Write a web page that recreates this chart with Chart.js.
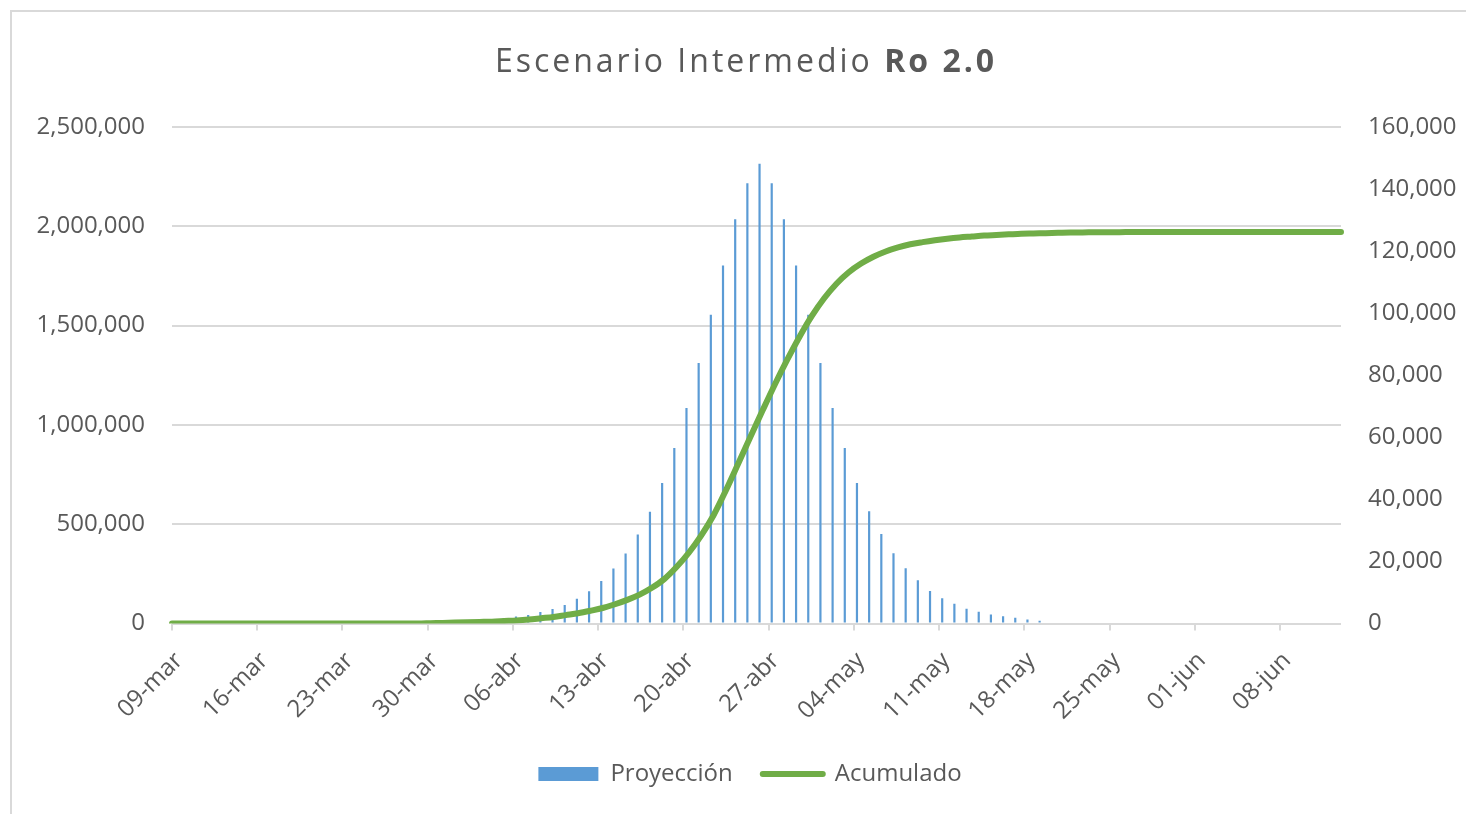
<!DOCTYPE html>
<html><head><meta charset="utf-8">
<script src="https://cdn.jsdelivr.net/npm/chart.js@4.4.1/dist/chart.umd.min.js"></script>
<style>
html,body{margin:0;padding:0;background:#fff;overflow:hidden}
#wrap{position:relative;width:1466px;height:814px;overflow:hidden}
#frame{position:absolute;left:10px;top:10px;width:1600px;height:900px;border-left:2px solid #d9d9d9;border-top:2px solid #d9d9d9;box-sizing:border-box}
#c{position:absolute;left:0;top:0}
</style></head><body>
<div id="wrap"><div id="frame"></div><canvas id="c" width="1466" height="814"></canvas></div>
<script>
const tituloNormal = 'Escenario Intermedio ';
const tituloNegrita = 'Ro 2.0';
const serieBarras = 'Proyección';
const serieLinea = 'Acumulado';

const dias = [
 '09-mar','10-mar','11-mar','12-mar','13-mar','14-mar','15-mar','16-mar','17-mar','18-mar','19-mar','20-mar','21-mar','22-mar','23-mar','24-mar','25-mar','26-mar','27-mar','28-mar','29-mar','30-mar','31-mar',
 '01-abr','02-abr','03-abr','04-abr','05-abr','06-abr','07-abr','08-abr','09-abr','10-abr','11-abr','12-abr','13-abr','14-abr','15-abr','16-abr','17-abr','18-abr','19-abr','20-abr','21-abr','22-abr','23-abr','24-abr','25-abr','26-abr','27-abr','28-abr','29-abr','30-abr',
 '01-may','02-may','03-may','04-may','05-may','06-may','07-may','08-may','09-may','10-may','11-may','12-may','13-may','14-may','15-may','16-may','17-may','18-may','19-may','20-may','21-may','22-may','23-may','24-may','25-may','26-may','27-may','28-may','29-may','30-may','31-may',
 '01-jun','02-jun','03-jun','04-jun','05-jun','06-jun','07-jun','08-jun','09-jun','10-jun','11-jun','12-jun'
];

const proyeccion = [
 0,0,0,0,0,0,0,0,0,0,0,0,0,0,0,0,0,0,0,0,0,0,0,0,0,
 14000,20000,28000,35000,43000,58000,73000,93000,125000,163000,214000,277000,353000,448000,563000,708000,884000,
 1085000,1312000,1555000,1802000,2036000,2217000,2315000,2217000,2036000,1802000,1555000,1312000,1085000,
 884000,708000,565000,451000,354000,278000,218000,164000,127000,99000,74000,59000,45000,37000,29000,20000,14000,
 0,0,0,0,0,0,0,0,0,0,0,0,0,0,0,0,0,0,0,0,0,0,0,0
];

const acumulado = [
 0,0,0,0,0,0,0,0,0,0,0,0,0,0,0,0,0,0,0,0,0,
 100,200,300,400,500,600,800,1000,1300,1700,2100,2700,3300,4100,5000,6200,7600,9300,11500,
 14300,18200,22800,28300,34800,42800,51400,60100,68700,77100,85000,92400,99100,104800,109500,
 113200,116000,118200,119900,121200,122200,122900,123500,124000,124400,124700,125000,125200,125400,125600,125700,125800,
 125900,126000,126000,126100,126100,126100,126200,
 126200,126200,126200,126200,126200,126200,126200,126200,126200,126200,126200,126200,126200,126200,126200,126200,126200
];

const ticksIzq = {min:0, max:2500000, step:500000};
const ticksDer = {min:0, max:160000, step:20000};
const pasoSemana = 7;

const gris = '#595959';
const grid = '#d9d9d9';
const fam = '"Open Sans", "DejaVu Sans", sans-serif';

const titlePlugin = {
  id: 'mixedTitle',
  afterDraw(chart) {
    const ctx = chart.ctx;
    ctx.save();
    const fs = 32;
    const esp = 3;
    const fReg = `${fs}px ${fam}`;
    const fBold = `bold ${fs}px ${fam}`;
    if ('letterSpacing' in ctx) ctx.letterSpacing = esp + 'px';
    ctx.font = fReg;
    const w1 = ctx.measureText(tituloNormal).width;
    ctx.font = fBold;
    const w2 = ctx.measureText(tituloNegrita).width;
    const x0 = chart.width / 2 + 13 - (w1 + w2) / 2;
    ctx.textBaseline = 'middle';
    ctx.textAlign = 'left';
    ctx.fillStyle = gris;
    ctx.font = fReg;
    ctx.fillText(tituloNormal, x0, 63);
    ctx.font = fBold;
    ctx.fillText(tituloNegrita, x0 + w1, 63);
    ctx.restore();
  }
};

const fmt = v => Number(v).toLocaleString('en-US');

function build() {
  new Chart(document.getElementById('c'), {
    type: 'bar',
    data: {
      labels: dias,
      datasets: [
        {
          type: 'bar', label: serieBarras, data: proyeccion,
          backgroundColor: '#5b9bd5', borderWidth: 0,
          barPercentage: 0.36, categoryPercentage: 1.0,
          xAxisID: 'x', yAxisID: 'y', order: 2
        },
        {
          type: 'line', label: serieLinea, data: acumulado,
          borderColor: '#70ad47', backgroundColor: '#70ad47', borderWidth: 6,
          pointRadius: 0, cubicInterpolationMode: 'monotone',
          borderCapStyle: 'round', borderJoinStyle: 'round',
          xAxisID: 'x2', yAxisID: 'y1', order: 1
        }
      ]
    },
    options: {
      responsive: false,
      animation: false,
      devicePixelRatio: 1,
      layout: { padding: { top: 127, left: 34, right: 0, bottom: 18 } },
      plugins: {
        title: { display: false },
        tooltip: { enabled: false },
        legend: {
          display: true, position: 'bottom',
          labels: {
            usePointStyle: true, pointStyleWidth: 60, boxHeight: 14,
            padding: 30, color: gris,
            font: { family: fam, size: 24 },
            generateLabels(chart) {
              const ds = chart.data.datasets;
              return [
                { text: ds[0].label, fillStyle: ds[0].backgroundColor, strokeStyle: ds[0].backgroundColor,
                  lineWidth: 0, pointStyle: 'rect', datasetIndex: 0, hidden: false, fontColor: gris },
                { text: ds[1].label, fillStyle: ds[1].borderColor, strokeStyle: ds[1].borderColor,
                  lineWidth: 6, lineCap: 'round', pointStyle: 'line', datasetIndex: 1, hidden: false, fontColor: gris }
              ];
            }
          }
        }
      },
      scales: {
        x: { type: 'category', display: false, offset: true },
        x2: { type: 'category', display: false, offset: false, position: 'bottom', grid: { offset: false } },
        xd: {
          type: 'linear', axis: 'x', position: 'bottom',
          min: 0, max: dias.length, offset: false, bounds: 'data',
          afterBuildTicks(scale) {
            scale.ticks = scale.ticks.filter(t => t.value % pasoSemana === 0 && t.value < dias.length);
          },
          afterFit(scale) { scale.height = 108.5; },
          ticks: {
            stepSize: pasoSemana, autoSkip: false, minRotation: 45, maxRotation: 45,
            padding: 16, labelOffset: 7, color: gris, font: { family: fam, size: 24 },
            callback: v => dias[v]
          },
          grid: { offset: false, drawOnChartArea: false, drawTicks: true, tickLength: 7, color: grid, lineWidth: 2 },
          border: { display: false }
        },
        y: {
          position: 'left', min: ticksIzq.min, max: ticksIzq.max,
          afterFit(scale) { scale.width = 138; },
          ticks: { stepSize: ticksIzq.step, padding: 27, color: gris, font: { family: fam, size: 24 }, callback: fmt },
          grid: { color: grid, lineWidth: 2, drawTicks: false },
          border: { display: false }
        },
        y1: {
          position: 'right', min: ticksDer.min, max: ticksDer.max,
          afterFit(scale) { scale.width = 125; },
          ticks: { stepSize: ticksDer.step, padding: 27, color: gris, font: { family: fam, size: 24 }, callback: fmt },
          grid: { drawOnChartArea: false, drawTicks: false },
          border: { display: false }
        }
      }
    },
    plugins: [titlePlugin]
  });
}

if (document.fonts && document.fonts.load) {
  Promise.all([
    document.fonts.load('24px "Open Sans"'),
    document.fonts.load('bold 32px "Open Sans"')
  ]).then(build, build);
} else { build(); }
</script>
</body></html>
